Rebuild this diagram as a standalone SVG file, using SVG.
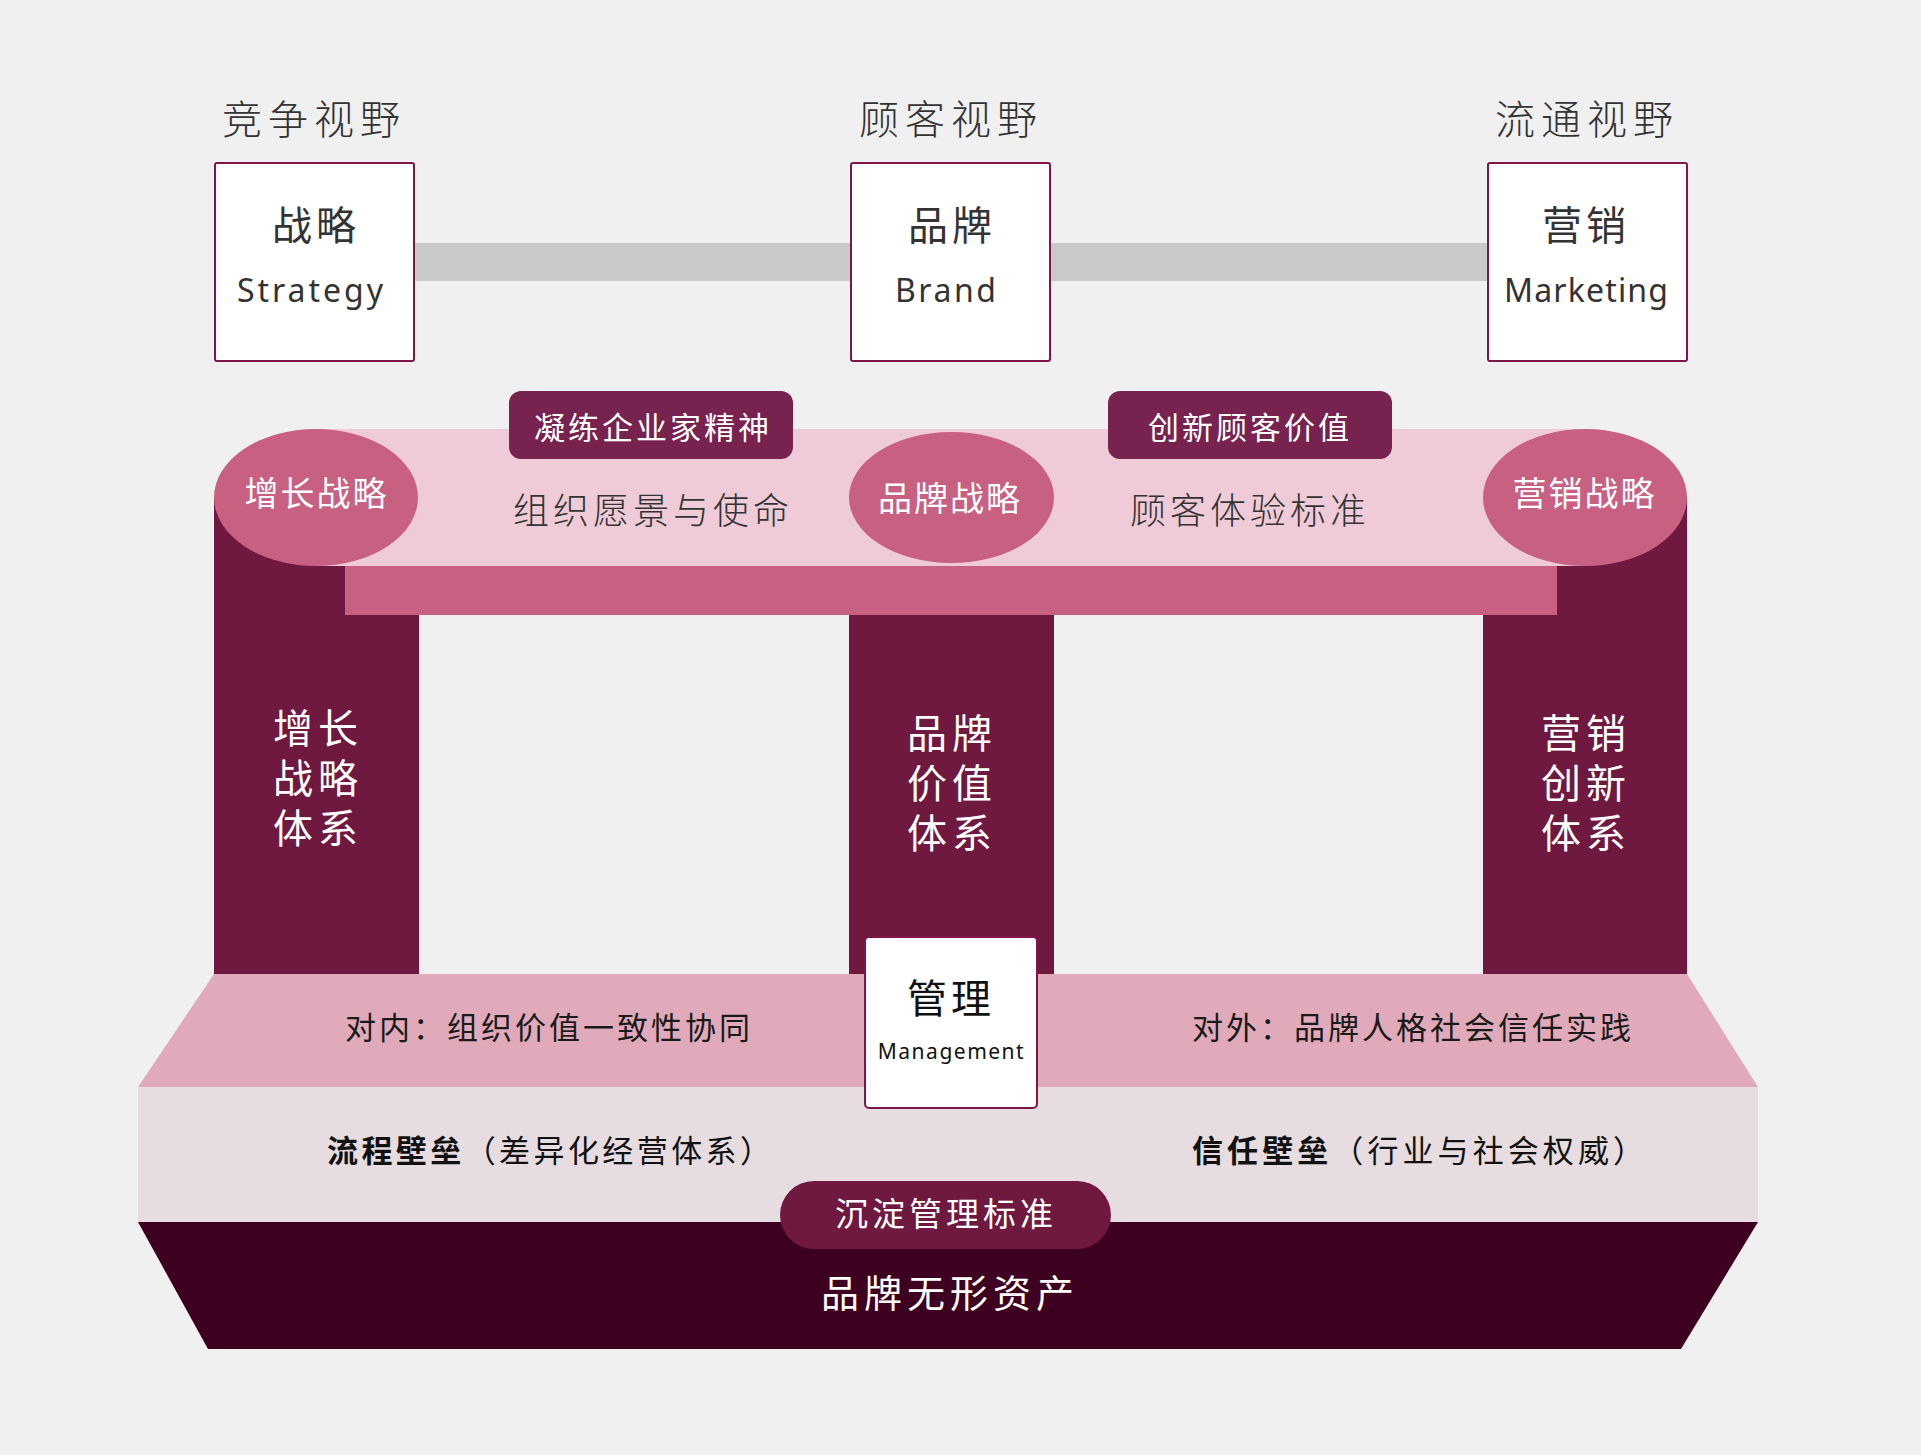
<svg xmlns="http://www.w3.org/2000/svg" width="1921" height="1455" viewBox="0 0 1921 1455">
<style>
.cjk{font-family:"Noto Sans CJK SC","Noto Sans",sans-serif}
.lat{font-family:"Noto Sans","Noto Sans CJK SC",sans-serif}
.title{font-size:40px;font-weight:300;fill:#333;letter-spacing:6px;text-anchor:middle}
.boxcn{font-size:40px;font-weight:400;fill:#333;letter-spacing:4px;text-anchor:middle}
.boxen{font-size:32px;fill:#333;text-anchor:middle}
.box{fill:#fff;stroke:#7e1649;stroke-width:2}
.circ{fill:#c86082}
.circt{font-size:34px;fill:#fff;letter-spacing:2px;text-anchor:middle}
.tag{fill:#78224f}
.tagt{font-size:31px;fill:#fff;letter-spacing:3px;text-anchor:middle}
.bandt{font-size:36px;font-weight:300;fill:#333;letter-spacing:4px;text-anchor:middle}
.pillar{fill:#6f1840}
.pillt{font-size:40px;fill:#fff;letter-spacing:5px;text-anchor:middle}
.rowt{font-size:31px;fill:#1a1a1a;letter-spacing:3px}
.rowb{font-size:31px;fill:#111}
</style>
<rect width="1921" height="1455" fill="#f0f0f0"/>

<g id="connectors">
  <rect x="414" y="243" width="437" height="38" fill="#c9c9c9"/>
  <rect x="1050" y="243" width="438" height="38" fill="#c9c9c9"/>
</g>

<g id="title-competition"><text class="cjk title" x="314" y="134">竞争视野</text></g>
<g id="title-customer"><text class="cjk title" x="951" y="134">顾客视野</text></g>
<g id="title-channel"><text class="cjk title" x="1587" y="134">流通视野</text></g>

<g id="box-strategy">
  <rect class="box" x="215" y="163" width="199" height="198" rx="2"/>
  <text class="cjk boxcn" x="316" y="240">战略</text>
  <text class="lat boxen" x="310" y="302" textLength="146" lengthAdjust="spacing">Strategy</text>
</g>
<g id="box-brand">
  <rect class="box" x="851" y="163" width="199" height="198" rx="2"/>
  <text class="cjk boxcn" x="952" y="240">品牌</text>
  <text class="lat boxen" x="945.5" y="302" textLength="101" lengthAdjust="spacing">Brand</text>
</g>
<g id="box-marketing">
  <rect class="box" x="1488" y="163" width="199" height="198" rx="2"/>
  <text class="cjk boxcn" x="1586" y="240">营销</text>
  <text class="lat boxen" x="1586" y="302" textLength="164" lengthAdjust="spacing">Marketing</text>
</g>

<g id="pillar-growth">
  <rect class="pillar" x="214" y="497" width="205" height="477"/>
  <text class="cjk pillt" x="318" y="743">增长</text>
  <text class="cjk pillt" x="318" y="793">战略</text>
  <text class="cjk pillt" x="318" y="843">体系</text>
</g>
<g id="pillar-brand">
  <rect class="pillar" x="849" y="560" width="205" height="414"/>
  <text class="cjk pillt" x="952" y="748">品牌</text>
  <text class="cjk pillt" x="952" y="798">价值</text>
  <text class="cjk pillt" x="952" y="848">体系</text>
</g>
<g id="pillar-marketing">
  <rect class="pillar" x="1483" y="497" width="204" height="477"/>
  <text class="cjk pillt" x="1586" y="748">营销</text>
  <text class="cjk pillt" x="1586" y="798">创新</text>
  <text class="cjk pillt" x="1586" y="848">体系</text>
</g>

<g id="band-top">
  <rect x="316" y="429" width="1269" height="137" fill="#eecbd6"/>
  <rect x="345" y="566" width="1212" height="49" fill="#c86082"/>
  <text class="cjk bandt" x="653" y="524">组织愿景与使命</text>
  <text class="cjk bandt" x="1250" y="524">顾客体验标准</text>
</g>

<g id="tag-entrepreneur">
  <rect class="tag" x="509" y="391" width="284" height="68" rx="12"/>
  <text class="cjk tagt" x="653" y="439">凝练企业家精神</text>
</g>
<g id="tag-customer-value">
  <rect class="tag" x="1108" y="391" width="284" height="68" rx="12"/>
  <text class="cjk tagt" x="1250" y="439">创新顾客价值</text>
</g>

<g id="circle-growth">
  <ellipse class="circ" cx="316" cy="497.5" rx="102" ry="68.5"/>
  <text class="cjk circt" x="316.5" y="506">增长战略</text>
</g>
<g id="circle-brand">
  <ellipse class="circ" cx="951.5" cy="497.5" rx="102.5" ry="65.5"/>
  <text class="cjk circt" x="950" y="511">品牌战略</text>
</g>
<g id="circle-marketing">
  <ellipse class="circ" cx="1585" cy="497.5" rx="102" ry="68.5"/>
  <text class="cjk circt" x="1584.5" y="506">营销战略</text>
</g>

<g id="layer-culture">
  <polygon points="214,974 1687,974 1758,1087 138,1087" fill="#e1aabb"/>
  <text class="cjk rowt" x="345" y="1039">对内：组织价值一致性协同</text>
  <text class="cjk rowt" x="1192" y="1039">对外：品牌人格社会信任实践</text>
</g>
<g id="layer-barrier">
  <rect x="138" y="1087" width="1620" height="135" fill="#e7dde1"/>
  <text class="cjk rowb" x="327" y="1162" textLength="444" lengthAdjust="spacing"><tspan font-weight="700">流程壁垒</tspan>（差异化经营体系）</text>
  <text class="cjk rowb" x="1192" y="1162" textLength="452" lengthAdjust="spacing"><tspan font-weight="700">信任壁垒</tspan>（行业与社会权威）</text>
</g>
<g id="layer-asset">
  <polygon points="138,1222 1758,1222 1681,1349 208,1349" fill="#3e0020"/>
  <text class="cjk" x="950" y="1307" font-size="38" fill="#fff" letter-spacing="5" text-anchor="middle">品牌无形资产</text>
</g>
<g id="pill-standard">
  <rect x="780" y="1181" width="331" height="68" rx="34" fill="#6f1840"/>
  <text class="cjk" x="946" y="1226" font-size="33" fill="#fff" letter-spacing="4" text-anchor="middle">沉淀管理标准</text>
</g>
<g id="box-management">
  <rect class="box" x="865" y="937" width="172" height="171" rx="4"/>
  <text class="cjk" x="951" y="1013" font-size="40" fill="#111" letter-spacing="4" text-anchor="middle">管理</text>
  <text class="lat" x="951.5" y="1059" font-size="21" fill="#111" letter-spacing="1.5" text-anchor="middle">Management</text>
</g>
</svg>
